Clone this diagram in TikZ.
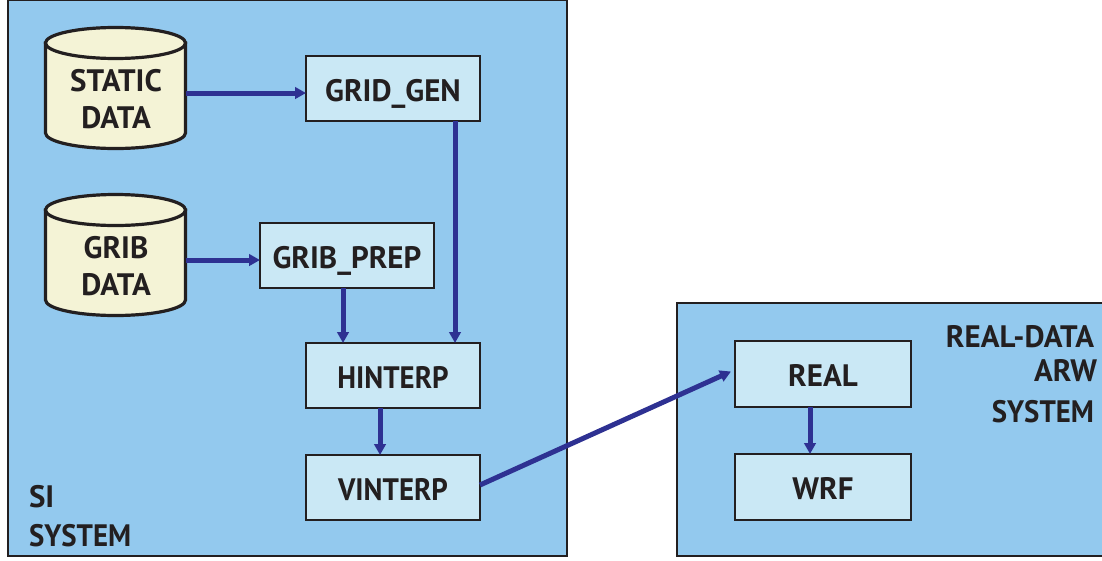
\documentclass[tikz,border=0pt]{standalone}
\usepackage{fontspec}
\setmainfont{PT Sans}
\newfontfamily\narrowsans[FakeStretch=0.93]{PT Sans}
\usetikzlibrary{arrows.meta}
\definecolor{panelblue}{HTML}{93C9EE}
\definecolor{boxblue}{HTML}{CAE8F5}
\definecolor{canfill}{HTML}{F4F3D6}
\definecolor{flow}{HTML}{2E3192}
\definecolor{ink}{HTML}{231F20}
\tikzset{
  x=1pt,y=-1pt,
  every node/.style={outer sep=0pt},
  panel/.style={draw=ink,line width=2.4pt,fill=panelblue,anchor=north west,inner sep=0pt},
  procbox/.style={draw=ink,line width=2.2pt,fill=boxblue,text=ink,anchor=north west,inner sep=0pt,
    minimum width=174pt,minimum height=65pt,text height=25pt,text depth=0pt,
    font=\fontsize{31}{32}\bfseries\selectfont},
  canlabel/.style={inner sep=0pt,minimum width=141pt,minimum height=122pt,text=ink,align=center,
    font=\fontsize{31}{37.5}\bfseries\selectfont},
  lab/.style={text=ink,inner sep=0pt,font=\fontsize{31}{32}\bfseries\selectfont},
  flowline/.style={draw=flow,line width=5pt,-{Triangle[length=11pt,width=11.5pt]}},
  canbody/.style={draw=ink,line width=3.2pt,fill=canfill}
}
\begin{document}
\begin{tikzpicture}
\useasboundingbox (0,0) rectangle (1102,560);
\node[panel,minimum width=559pt,minimum height=556pt] (si) at (8,0) {};
\node[panel,minimum width=430pt,minimum height=253pt] (arw) at (677,303) {};

% cylinders
\path[canbody] (45.5,43) -- (45.5,133) arc[x radius=70,y radius=15.5,start angle=180,end angle=0]
  -- (185.5,43) -- cycle;
\path[canbody] (45.5,43) arc[x radius=70,y radius=15.5,start angle=180,end angle=-180] -- cycle;
\path[canbody] (45.5,210) -- (45.5,300) arc[x radius=70,y radius=15.5,start angle=180,end angle=0]
  -- (185.5,210) -- cycle;
\path[canbody] (45.5,210) arc[x radius=70,y radius=15.5,start angle=180,end angle=-180] -- cycle;

\node[canlabel] (static) at (116,99) {STATIC\\DATA};
\node[canlabel] (grib) at (116,266) {GRIB\\DATA};

\node[procbox] (gridgen) at (306,56) {GRID\_GEN};
\node[procbox] (gribprep) at (260,223) {GRIB\_PREP};
\node[procbox] (hinterp) at (306,343) {\narrowsans HINTERP};
\node[procbox] (vinterp) at (306,455) {\narrowsans VINTERP};
\node[procbox,minimum width=176pt,minimum height=66pt] (real) at (735,341) {REAL};
\node[procbox,minimum width=176pt,minimum height=66pt] (wrf) at (735,454) {WRF};

\node[lab,anchor=base west] (silab) at (29,507) {SI};
\node[lab,anchor=base west] (sisys) at (29,546) {\narrowsans SYSTEM};
\node[lab,anchor=base east] (rd) at (1094,347) {REAL-DATA};
\node[lab,anchor=base east] (arwl) at (1097,381) {ARW};
\node[lab,anchor=base east] (sysl) at (1094,422) {\narrowsans SYSTEM};

\draw[flowline] ([yshift=6pt,xshift=-.5pt]static.east) -- ([yshift=-4.5pt]gridgen.west);
\draw[flowline] ([yshift=6pt,xshift=-.5pt]grib.east) -- ([yshift=-4.5pt]gribprep.west);
\draw[flowline] ([xshift=62pt]gridgen.south) -- ([xshift=62pt]hinterp.north);
\draw[flowline] ([xshift=-50pt]gribprep.south -| hinterp.north) -- ([xshift=-50pt]hinterp.north);
\draw[flowline] ([xshift=-13pt]hinterp.south) -- ([xshift=-13pt]vinterp.north);
\draw[flowline] ([xshift=-13pt]real.south) -- ([xshift=-13pt]wrf.north);
\draw[flowline] ([yshift=2.5pt]vinterp.east) -- ([xshift=-4pt,yshift=2.5pt]real.west);
\end{tikzpicture}
\end{document}
